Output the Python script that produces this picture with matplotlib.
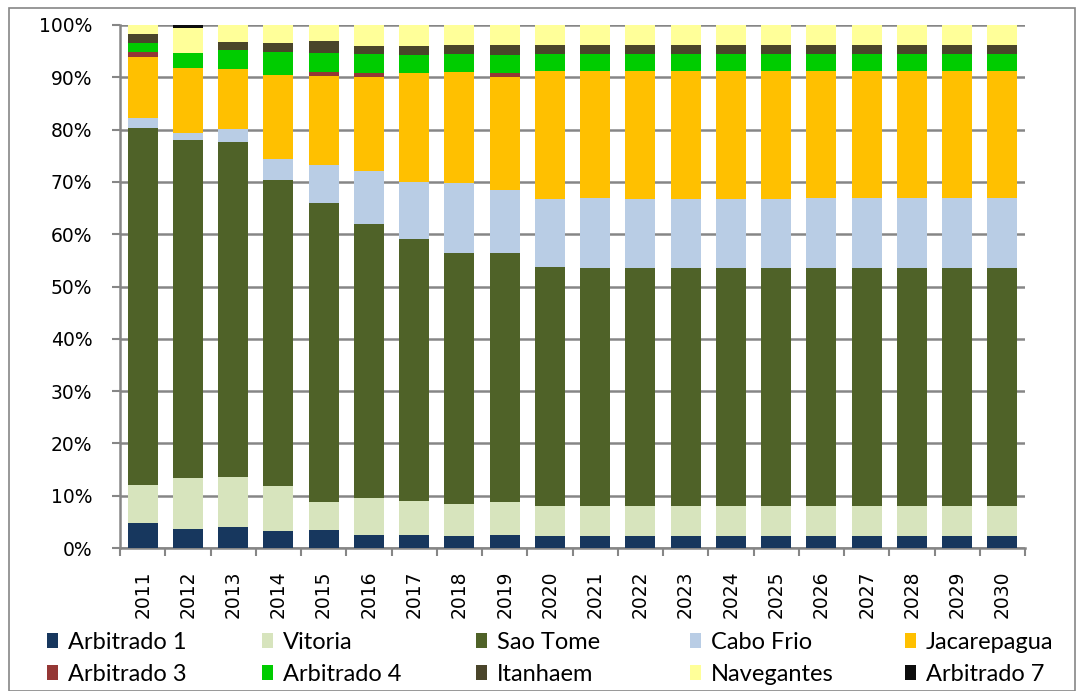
import matplotlib
matplotlib.use("Agg")
import matplotlib.pyplot as plt
from matplotlib.patches import Patch, Rectangle
import numpy as np

plt.rcParams["font.family"] = ["DejaVu Sans"]

years = [str(y) for y in range(2011, 2031)]

series_names = ["Arbitrado 1", "Vitoria", "Sao Tome", "Cabo Frio", "Jacarepagua",
                "Arbitrado 3", "Arbitrado 4", "Itanhaem", "Navegantes", "Arbitrado 7"]

arbitrado1 = [4.8, 3.6, 4.0, 3.3, 3.4, 2.5, 2.5, 2.3, 2.4, 2.3,
              2.3, 2.3, 2.3, 2.3, 2.3, 2.3, 2.3, 2.3, 2.3, 2.3]
vitoria = [7.2, 9.8, 9.5, 8.6, 5.3, 7.0, 6.4, 6.1, 6.3, 5.7,
           5.7, 5.7, 5.7, 5.7, 5.7, 5.7, 5.7, 5.7, 5.7, 5.7]
sao_tome = [68.3, 64.6, 64.2, 58.5, 57.3, 52.5, 50.2, 48.1, 47.8, 45.7,
            45.6, 45.6, 45.6, 45.6, 45.6, 45.6, 45.6, 45.6, 45.6, 45.6]
cabo_frio = [1.9, 1.3, 2.5, 4.0, 7.2, 10.1, 10.9, 13.2, 12.0, 13.1,
             13.4, 13.2, 13.2, 13.2, 13.2, 13.4, 13.4, 13.4, 13.4, 13.4]
jacarepagua = [11.6, 12.4, 11.4, 16.0, 17.0, 18.0, 20.9, 21.4, 21.6, 24.4,
               24.2, 24.4, 24.4, 24.4, 24.4, 24.2, 24.2, 24.2, 24.2, 24.2]
arbitrado3 = [1.0, 0.0, 0.0, 0.0, 0.8, 0.8, 0.0, 0.0, 0.8, 0.0,
              0.0, 0.0, 0.0, 0.0, 0.0, 0.0, 0.0, 0.0, 0.0, 0.0]
arbitrado4 = [1.7, 3.0, 3.7, 4.4, 3.7, 3.5, 3.3, 3.3, 3.3, 3.2,
              3.2, 3.2, 3.2, 3.2, 3.2, 3.2, 3.2, 3.2, 3.2, 3.2]
itanhaem = [1.7, 0.0, 1.4, 1.8, 2.2, 1.5, 1.8, 1.8, 1.9, 1.8,
            1.8, 1.8, 1.8, 1.8, 1.8, 1.8, 1.8, 1.8, 1.8, 1.8]
navegantes = [1.8, 4.8, 3.3, 3.4, 3.1, 4.1, 4.0, 3.8, 3.9, 3.8,
              3.8, 3.8, 3.8, 3.8, 3.8, 3.8, 3.8, 3.8, 3.8, 3.8]
arbitrado7 = [0.0, 0.5, 0.0, 0.0, 0.0, 0.0, 0.0, 0.0, 0.0, 0.0,
              0.0, 0.0, 0.0, 0.0, 0.0, 0.0, 0.0, 0.0, 0.0, 0.0]

colors = ["#17375E", "#D7E4BD", "#4F6228", "#B9CDE5", "#FFC000",
          "#953735", "#00CC00", "#4A452A", "#FFFF99", "#0D0D0D"]

data = [arbitrado1, vitoria, sao_tome, cabo_frio, jacarepagua,
        arbitrado3, arbitrado4, itanhaem, navegantes, arbitrado7]

W, H = 1077, 691
fig = plt.figure(figsize=(W / 100, H / 100), dpi=100)
ax = fig.add_axes([120 / W, (H - 548) / H, (1025 - 120) / W, (548 - 25) / H])

grid_color = "#868686"
x = np.arange(len(years))
arr = np.array(data, dtype=float)
totals = arr.sum(axis=0)
pct = arr / totals * 100
bottom = np.zeros(len(years))
for vals, c in zip(pct, colors):
    ax.bar(x, vals, bottom=bottom, width=0.66, color=c, edgecolor="none", zorder=3)
    bottom += vals

ax.set_xlim(-0.5, len(years) - 0.5)
ax.set_ylim(0, 100)
ax.set_yticks(np.arange(0, 101, 10))
ax.set_yticklabels([f"{v}%" for v in range(0, 101, 10)], fontsize=13.5)
ax.set_xticks(x)
ax.set_xticklabels(years, rotation=90, fontsize=13.5)
ax.set_xticks(np.arange(-0.5, len(years), 1), minor=True)
ax.tick_params(axis="x", which="major", length=0, pad=16)
ax.tick_params(axis="x", which="minor", length=6, width=1.5, color=grid_color)
ax.tick_params(axis="y", length=6, width=1.5, color=grid_color, pad=14)

ax.yaxis.grid(True, color=grid_color, linewidth=1.8, zorder=0)
ax.set_axisbelow(True)
for s in ["top", "right"]:
    ax.spines[s].set_visible(False)
for s in ["left", "bottom"]:
    ax.spines[s].set_color(grid_color)
    ax.spines[s].set_linewidth(1.8)

# Legend: 5 columns x 2 rows, Excel-style equal column spacing
rows = [[0, 1, 2, 3, 4], [5, 6, 7, 8, 9]]
col_x = [47, 262, 476, 690, 905]
for ci, cx in enumerate(col_x):
    idx = [rows[0][ci], rows[1][ci]]
    handles = [Patch(facecolor=colors[i], edgecolor="none") for i in idx]
    labels = [series_names[i] for i in idx]
    fig.legend(handles, labels, loc="upper left",
               bbox_to_anchor=(cx / W, (H - 632) / H),
               frameon=False, borderpad=0, borderaxespad=0,
               handlelength=0.48, handleheight=0.6, handletextpad=0.4,
               labelspacing=0.45,
               prop={"family": "Lato", "size": 17})

fig.patches.append(Rectangle((9 / W, 0), (1075 - 9) / W, (H - 8) / H,
                             transform=fig.transFigure, fill=False,
                             edgecolor=grid_color, linewidth=1.2))

fig.savefig("out.png", dpi=100)
